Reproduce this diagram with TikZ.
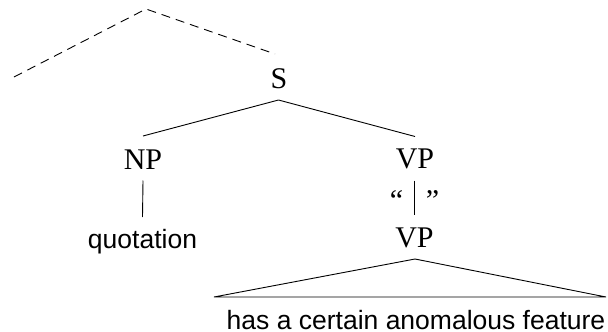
\documentclass[tikz,border=0pt]{standalone}
\usepackage{fontspec}
\setmainfont{Liberation Serif}
\setsansfont{Liberation Sans}
\begin{document}
\begin{tikzpicture}[x=1pt,y=-1pt,
  cat/.style={anchor=base,inner sep=0pt,font=\fontsize{30}{30}\selectfont},
  word/.style={anchor=base,inner sep=0pt,font=\fontsize{26.5}{26.5}\sffamily},
  qmark/.style={anchor=base,inner sep=0pt,font=\fontsize{30}{30}\selectfont},
  edge/.style={line width=0.9pt},
  dashedge/.style={line width=0.9pt,dash pattern=on 9pt off 6pt}]
\useasboundingbox (0,0) rectangle (608,332);
% dashed upper tree
\coordinate (dl) at (14,77);
\coordinate (dtop) at (146,9);
\coordinate (dr) at (275,54);
\draw[dashedge] (dl) -- (dtop) -- (dr);
% nodes
\node[cat] (S) at (279,88.5) {S};
\node[cat] (NP) at (143,169.5) {NP};
\node[cat] (VP) at (415,168.5) {VP};
\node[cat] (VP2) at (414.5,247.5) {VP};
\node[word] (quot) at (142.5,248) {quotation};
\node[qmark] (ql) at (396.5,210.5) {“};
\node[qmark] (qr) at (432.5,210.5) {”};
\node[word] (feat) at (416,329) {has a certain anomalous feature};
% edges
\coordinate (Sb) at (278.5,100);
\draw[edge] (Sb) -- ([yshift=33.5pt]NP.base);
\draw[edge] (Sb) -- ([yshift=32pt]VP.base);
\draw[edge] ([yshift=-11pt]NP.base) -- ([yshift=31pt]quot.base);
\draw[edge] ([xshift=-0.5pt,yshift=-12pt]VP.base) -- ([yshift=32.5pt]VP2.base);
% triangle
\coordinate (tl) at (214,297);
\coordinate (tr) at (606,297);
\draw[edge] (tl) -- ([xshift=0.5pt,yshift=-11.5pt]VP2.base) -- (tr) -- cycle;
\end{tikzpicture}
\end{document}
